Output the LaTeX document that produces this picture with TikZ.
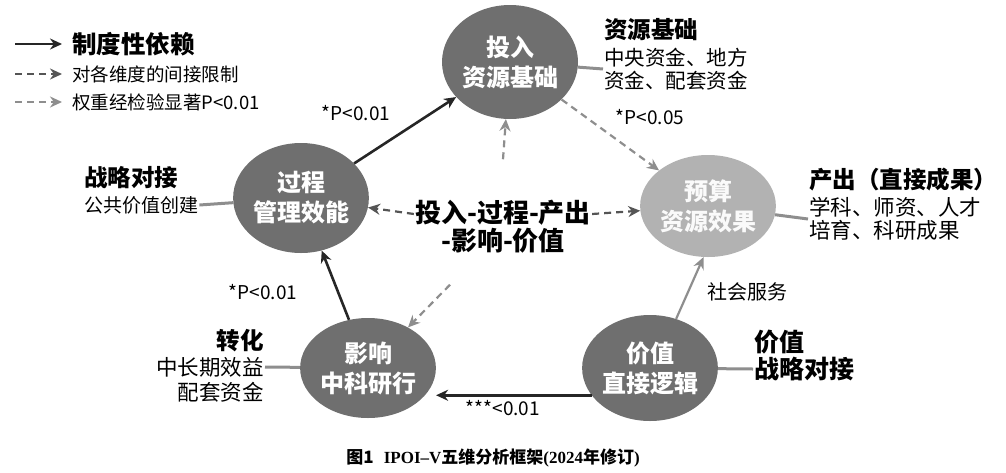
\documentclass[tikz,border=0pt]{standalone}
\usepackage{fontspec}
\usepackage{xcolor}
\setmainfont{Noto Sans CJK SC}
\newfontfamily\capfont{Liberation Serif}
\usetikzlibrary{positioning,arrows.meta,shapes.geometric}

\definecolor{nodeDark}{HTML}{6F6F6F}
\definecolor{nodeLight}{HTML}{B2B2B2}
\definecolor{lineGray}{HTML}{8E8E8E}
\definecolor{dashDark}{HTML}{555555}

\begin{document}
\begin{tikzpicture}[
  x=1pt, y=-1pt,
  phaseNode/.style={ellipse, draw=none, inner sep=0pt, align=center,
                    text=white, font=\fontsize{24}{30}\selectfont\bfseries},
  darkPhase/.style={fill=nodeDark},
  lightPhase/.style={fill=nodeLight, text=white!96!gray},
  noteHead/.style={inner sep=1pt, font=\fontsize{23.5}{27}\selectfont\bfseries},
  noteBody/.style={inner sep=1pt, font=\fontsize{20.5}{23}\selectfont},
  pLabel/.style={inner sep=1pt, font=\fontsize{19}{22}\selectfont},
  solidDep/.style={-{Stealth[length=12pt,width=11pt]}, line width=2.6pt,
                   draw=black!85},
  indirectDash/.style={-{Stealth[length=12pt,width=11pt]}, line width=2.2pt,
                       dash pattern=on 7pt off 5pt, draw=dashDark},
  sigDash/.style={indirectDash, draw=lineGray},
  sigSolid/.style={solidDep, draw=lineGray, line width=2.2pt},
  sideLine/.style={line width=3pt, draw=lineGray},
  legendGap/.style={shorten >=9pt}
]
  \useasboundingbox (0,0) rectangle (1006,472);

  % === Legend ===
  \coordinate (lgA) at (15,44);
  \coordinate (lgB) at (15,74);
  \coordinate (lgC) at (15,102);
  \node[inner sep=1pt, anchor=west, font=\fontsize{24.5}{27}\selectfont\bfseries]
    (lgTextA) at (71,44) {制度性依赖};
  \node[inner sep=1pt, anchor=west, font=\fontsize{18.5}{21}\selectfont]
    (lgTextB) at (71,74) {对各维度的间接限制};
  \node[inner sep=1pt, anchor=west, font=\fontsize{18.5}{21}\selectfont]
    (lgTextC) at (71,102) {权重经检验显著P<0.01};
  \draw[solidDep, legendGap] (lgA) -- (lgTextA.west);
  \draw[indirectDash, legendGap] (lgB) -- (lgTextB.west);
  \draw[sigDash, legendGap] (lgC) -- (lgTextC.west);

  % === Five phases ===
  \node[phaseNode, darkPhase, minimum width=136pt, minimum height=114pt]
    (inp) at (510,62) {投入\\资源基础};
  \node[phaseNode, darkPhase, minimum width=132pt, minimum height=110pt]
    (proc) at (301,198) {过程\\管理效能};
  \node[phaseNode, lightPhase, minimum width=133pt, minimum height=102pt]
    (outp) at (708,206) {预算\\资源效果};
  \node[phaseNode, darkPhase, minimum width=133pt, minimum height=100pt]
    (imp) at (368,368) {影响\\中科研行};
  \node[phaseNode, darkPhase, minimum width=134pt, minimum height=106pt]
    (val) at (650,368) {价值\\直接逻辑};

  % === Core chain ===
  \node[inner sep=1pt, align=center, font=\fontsize{26}{28}\selectfont\bfseries]
    (core) at (503,227) {投入-过程-产出\\-影响-价值};

  % === Side notes ===
  \node[noteHead, anchor=west] (inpHead) at (603,30) {资源基础};
  \node[noteBody, anchor=west, align=left] (inpBody) at (603,69)
    {中央资金、地方\\资金、配套资金};
  \node[noteHead, anchor=west] (procHead) at (83,178) {战略对接};
  \node[noteBody, anchor=west, font=\fontsize{19}{22}\selectfont]
    (procBody) at (83,205) {公共价值创建};
  \node[noteHead, anchor=west] (outpHead) at (808,180) {产出（直接成果）};
  \node[noteBody, anchor=west, align=left, font=\fontsize{21.5}{23}\selectfont]
    (outpBody) at (808,219) {学科、师资、人才\\培育、科研成果};
  \node[noteHead, anchor=east] (impHead) at (265,341) {转化};
  \node[noteBody, anchor=east, font=\fontsize{21.5}{24}\selectfont]
    (impMid) at (265,367) {中长期效益};
  \node[noteBody, anchor=east, font=\fontsize{21.5}{24}\selectfont]
    (impLow) at (265,392) {配套资金};
  \node[noteHead, anchor=west, font=\fontsize{25}{28}\selectfont\bfseries]
    (valTop) at (753,342) {价值};
  \node[noteHead, anchor=west, font=\fontsize{25}{28}\selectfont\bfseries]
    (valBot) at (753,369) {战略对接};

  % === Significance labels ===
  \node[pLabel] (pInp) at (356,113) {*P<0.01};
  \node[pLabel] (pOutp) at (650,117) {*P<0.05};
  \node[pLabel] (pProc) at (263,292) {*P<0.01};
  \node[pLabel, anchor=west, font=\fontsize{20}{22}\selectfont]
    (pSoc) at (706,292) {社会服务};
  \node[pLabel] (pImp) at (503,408) {***<0.01};

  % === Connectors ===
  \draw[solidDep] (proc) -- (inp);
  \draw[sigDash] (inp) -- (outp);
  \draw[solidDep] (imp) -- (proc);
  \draw[solidDep] (val.205) -- (val.205 -| imp.east);
  \draw[sigSolid] (val.62) -- (outp.-95);
  \draw[indirectDash] ([yshift=13pt]core.west) -- (proc);
  \draw[indirectDash] ([yshift=13pt]core.east) -- (outp);
  \draw[sigDash] ([yshift=40pt]core.north) -- (inp);
  \draw[sigDash] ([shift={(-53pt,-30pt)}]core.south) -- (imp);

  % side lines
  \draw[sideLine] (inp) -- (inpBody.west);
  \draw[sideLine] (proc) -- (procBody.east);
  \draw[sideLine] (outp) -- (outpBody.west);
  \draw[sideLine] (imp) -- (impMid.east);
  \draw[sideLine] (val) -- (valBot.west);

  % === Caption ===
  \node[inner sep=1pt, font=\fontsize{17}{20}\selectfont\bfseries] (caption)
    at (493,458) {图1\hspace{0.6em}{\capfont IPOI–V}五维分析框架{\capfont(2024}年修订{\capfont)}};
\end{tikzpicture}
\end{document}
